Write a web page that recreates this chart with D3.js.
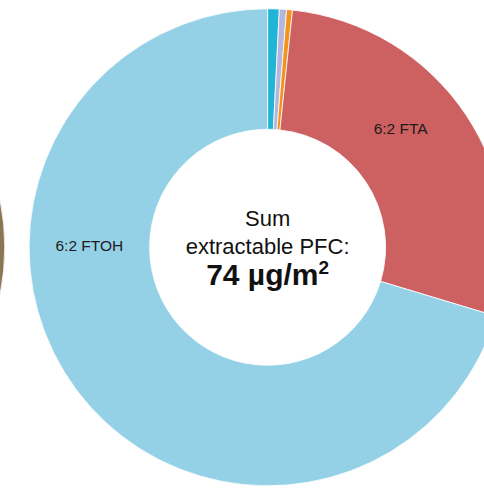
<!DOCTYPE html>
<html>
<head>
<meta charset="utf-8">
<script src="https://cdn.jsdelivr.net/npm/d3@7"></script>
<style>
  html, body { margin: 0; padding: 0; background: #fff; }
  svg { display: block; }
  text { font-family: "Liberation Sans", Arial, Helvetica, sans-serif; }
</style>
</head>
<body>
<svg id="chart" width="484" height="489"></svg>
<script>
// Extractable PFC composition (µg/m²), clockwise from 12 o'clock
const compounds = ["8:2 FTOH", "6:2 FTMAC", "PFHxA", "6:2 FTA", "6:2 FTOH"];
const amounts   = [0.58, 0.36, 0.29, 20.7, 52.0];
const colors    = ["#20b4d5", "#b5b6dd", "#f2931f", "#cd6060", "#94d1e6"];
const shownLabels = ["6:2 FTA", "6:2 FTOH"];

// Neighbouring panel in the row (only its right edge is in view)
const neighbourCompounds = ["PFC total"];
const neighbourAmounts   = [1];
const neighbourColors    = ["#8c7554"];

const totalText = ["Sum", "extractable PFC:"];
const totalNumber = 74;
const totalUnit = ["µg/m", "2"];

const svg = d3.select("#chart");
const cx = 267.6, cy = 247.3;
const outerR = 238.5, innerR = 118;
const panelStep = 501.4;

const arc = d3.arc().innerRadius(innerR).outerRadius(outerR);
const pie = d3.pie().sort(null).value(d => d.value);

function donut(g, names, values, cols) {
  const rows = names.map((n, i) => ({ name: n, value: values[i], color: cols[i] }));
  const arcs = pie(rows);
  g.selectAll("path")
    .data(arcs)
    .join("path")
    .attr("d", arc)
    .attr("fill", d => d.data.color)
    .attr("stroke", "#fff")
    .attr("stroke-width", 0.8);
  return arcs;
}

donut(svg.append("g").attr("transform", `translate(${cx - panelStep},${cy})`),
      neighbourCompounds, neighbourAmounts, neighbourColors);

const main = svg.append("g").attr("transform", `translate(${cx},${cy})`);
const arcs = donut(main, compounds, amounts, colors);

// Label placement along the middle of the ring (degrees clockwise from top)
const labelAngle = { "6:2 FTA": 48.3, "6:2 FTOH": 270.6 };
const labelR = (innerR + outerR) / 2;

main.selectAll("text.slice")
  .data(arcs.filter(d => shownLabels.includes(d.data.name)))
  .join("text")
  .attr("class", "slice")
  .attr("x", d => labelR * Math.sin(labelAngle[d.data.name] * Math.PI / 180))
  .attr("y", d => -labelR * Math.cos(labelAngle[d.data.name] * Math.PI / 180))
  .attr("text-anchor", "middle")
  .attr("dominant-baseline", "central")
  .attr("font-size", 15.5)
  .attr("fill", "#1c1c1c")
  .text(d => d.data.name);

// Centre caption
const caption = main.append("text").attr("text-anchor", "middle").attr("fill", "#111");
caption.append("tspan").attr("x", 0).attr("y", -21).attr("font-size", 22).text(totalText[0]);
caption.append("tspan").attr("x", 0).attr("y", 7).attr("font-size", 22).text(totalText[1]);
const value = caption.append("tspan").attr("x", 0).attr("y", 38)
  .attr("font-size", 30).attr("font-weight", "bold");
value.append("tspan").text(`${totalNumber} ${totalUnit[0]}`);
value.append("tspan").attr("dy", -11).attr("font-size", 19).text(totalUnit[1]);
</script>
</body>
</html>
